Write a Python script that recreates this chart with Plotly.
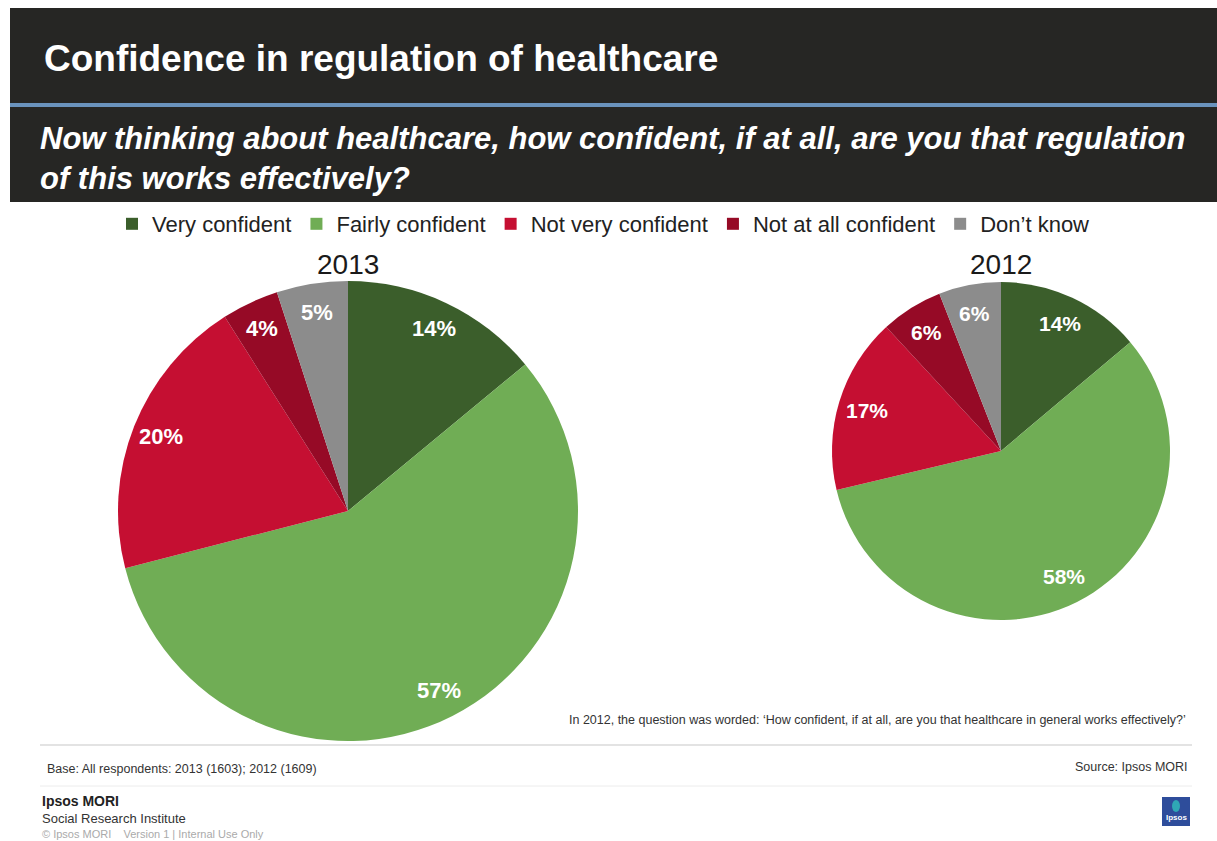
import math
import plotly.graph_objects as go

# Survey categories and shares (%)
categories = ["Very confident", "Fairly confident", "Not very confident",
              "Not at all confident", "Don\u2019t know"]
values_2013 = [14, 57, 20, 4, 5]
values_2012 = [14, 58, 17, 6, 6]
colors = ["#3B5E2B", "#70AD55", "#C50F32", "#960A26", "#8C8C8C"]

W, H = 1217, 841
FONT = "Liberation Sans, Arial, sans-serif"


def px_x(x):
    return x / W


def px_y(y):
    return 1 - y / H


# pie geometry in pixels: centre x, centre y, radius, label radius factor, label size
pies = [
    ("2013", values_2013, 348, 511, 230, 0.875, 22),
    ("2012", values_2012, 1001, 451, 169, 0.83, 21),
]

fig = go.Figure()
annotations = []
for i, (year, vals, cx, cy, r, lf, fs) in enumerate(pies):
    fig.add_trace(go.Pie(
        labels=categories,
        values=vals,
        name=year,
        sort=False,
        direction="clockwise",
        rotation=0,
        marker=dict(colors=colors, line=dict(width=0)),
        textinfo="none",
        hoverinfo="label+value",
        showlegend=(i == 0),
        domain=dict(x=[px_x(cx - r), px_x(cx + r)],
                    y=[px_y(cy + r), px_y(cy - r)]),
    ))
    # value labels placed on each slice's bisector
    total = sum(vals)
    cum = 0
    for v in vals:
        mid = (cum + v / 2) / total * 2 * math.pi
        cum += v
        lx = cx + lf * r * math.sin(mid)
        ly = cy - lf * r * math.cos(mid)
        annotations.append(dict(
            x=px_x(lx), y=px_y(ly), xref="paper", yref="paper",
            text=f"<b>{v}%</b>", showarrow=False,
            font=dict(family=FONT, size=fs, color="white"),
            xanchor="center", yanchor="middle"))
    annotations.append(dict(
        x=px_x(cx), y=px_y(264), xref="paper", yref="paper",
        text=year, showarrow=False,
        font=dict(family=FONT, size=28, color="#1a1a1a"),
        xanchor="center", yanchor="middle"))

# header texts
header = [
    (42, 58, "<b>Confidence in regulation of healthcare</b>", 37),
    (38, 138, "<b><i>Now thinking about healthcare, how confident, if at all, are you that regulation</i></b>", 31),
    (38, 178, "<b><i>of this works effectively?</i></b>", 31),
]
for x, y, t, s in header:
    annotations.append(dict(
        x=px_x(x), y=px_y(y), xref="paper", yref="paper", text=t,
        showarrow=False, font=dict(family=FONT, size=s, color="white"),
        xanchor="left", yanchor="middle"))

# footer texts
footer = [
    (1188, 720, "In 2012, the question was worded: \u2018How confident, if at all, are you that healthcare in general works effectively?\u2019",
     12.5, "#333333", "right"),
    (45, 769, "Base: All respondents: 2013 (1603); 2012 (1609)", 12.5, "#333333", "left"),
    (1190, 767, "Source: Ipsos MORI", 12.5, "#333333", "right"),
    (40, 801, "<b>Ipsos MORI</b>", 14, "#222222", "left"),
    (40, 818, "Social Research Institute", 13, "#333333", "left"),
    (40, 834, "\u00a9 Ipsos MORI    Version 1 | Internal Use Only", 11, "#aaaaaa", "left"),
    (1176, 817, "<b>Ipsos</b>", 8, "white", "center"),
]
for x, y, t, s, c, anc in footer:
    annotations.append(dict(
        x=px_x(x), y=px_y(y), xref="paper", yref="paper", text=t,
        showarrow=False, font=dict(family=FONT, size=s, color=c),
        xanchor=anc, yanchor="middle"))

shapes = [
    # dark header band
    dict(type="rect", xref="paper", yref="paper", x0=px_x(10), x1=1,
         y0=px_y(202), y1=px_y(8), fillcolor="#262624", line=dict(width=0), layer="below"),
    # blue rule inside header
    dict(type="rect", xref="paper", yref="paper", x0=px_x(10), x1=1,
         y0=px_y(107), y1=px_y(103), fillcolor="#6A93BD", line=dict(width=0)),
    # footer rules
    dict(type="line", xref="paper", yref="paper", x0=px_x(40), x1=px_x(1192),
         y0=px_y(745), y1=px_y(745), line=dict(color="#e3e3e3", width=2)),
    dict(type="line", xref="paper", yref="paper", x0=px_x(40), x1=px_x(1192),
         y0=px_y(786), y1=px_y(786), line=dict(color="#ececec", width=1)),
    # logo tile
    dict(type="rect", xref="paper", yref="paper", x0=px_x(1162), x1=px_x(1190),
         y0=px_y(826), y1=px_y(797), fillcolor="#2E4D9B", line=dict(width=0)),
    dict(type="circle", xref="paper", yref="paper", x0=px_x(1172), x1=px_x(1180),
         y0=px_y(812), y1=px_y(800), fillcolor="#2FA7B5", line=dict(width=0)),
]

fig.update_layout(
    width=W, height=H,
    margin=dict(l=0, r=0, t=0, b=0),
    paper_bgcolor="white",
    plot_bgcolor="white",
    font=dict(family=FONT),
    annotations=annotations,
    shapes=shapes,
    legend=dict(
        orientation="h", x=px_x(112), y=px_y(224), xanchor="left", yanchor="middle",
        font=dict(family=FONT, size=22, color="#222222"),
        itemclick=False, itemdoubleclick=False, traceorder="normal",
        bgcolor="rgba(0,0,0,0)",
    ),
)

fig.write_html("out.html")
